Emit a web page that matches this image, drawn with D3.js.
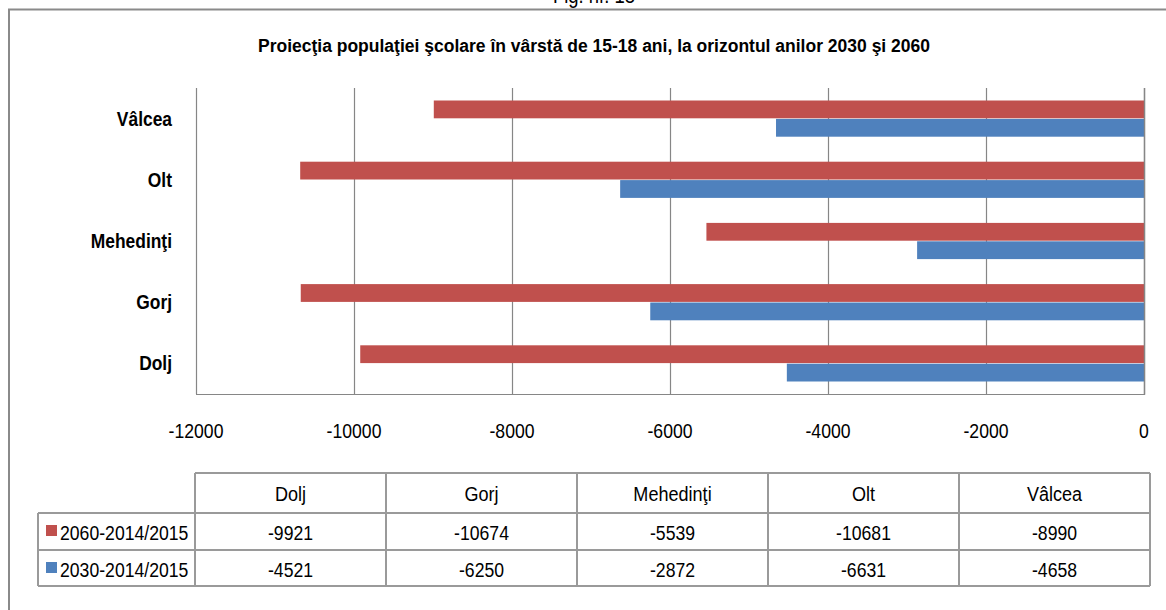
<!DOCTYPE html>
<html>
<head>
<meta charset="utf-8">
<script src="https://cdn.jsdelivr.net/npm/d3@7"></script>
<style>
  html, body { margin: 0; padding: 0; background: #fff; }
  svg { display: block; }
  text { font-family: "Liberation Sans", Arial, sans-serif; fill: #000; }
</style>
</head>
<body>
<svg id="chart" width="1166" height="610"></svg>
<script>
const categories = ["Dolj", "Gorj", "Mehedinţi", "Olt", "Vâlcea"];
const seriesNames = ["2060-2014/2015", "2030-2014/2015"];
const values2060 = [-9921, -10674, -5539, -10681, -8990];
const values2030 = [-4521, -6250, -2872, -6631, -4658];
const xTicks = [-12000, -10000, -8000, -6000, -4000, -2000, 0];
const colors = ["#C0504D", "#4F81BD"];
const chartTitle = "Proiecţia populaţiei şcolare în vârstă de 15-18 ani, la orizontul anilor 2030 şi 2060";
const figLabel = "Fig. nr. 18";

const svg = d3.select("#chart");
const frameColor = "#8a8a8a";
const SX = 0.84; // horizontal compression for narrow text look

function placeText(sel, xf, yf, sx) {
  return sel.attr("transform", (d, i) => `translate(${xf(d, i)},${yf(d, i)}) scale(${sx},1)`);
}

// Fig label (mostly cut off at top, as in the reference)
svg.append("text").attr("transform", `translate(594,3) scale(${SX},1)`).attr("text-anchor", "middle")
  .attr("font-size", 22).text(figLabel);

// frame
svg.append("line").attr("x1", 8).attr("x2", 1166).attr("y1", 9.5).attr("y2", 9.5)
  .attr("stroke", frameColor).attr("stroke-width", 2);
svg.append("line").attr("x1", 9).attr("x2", 9).attr("y1", 9).attr("y2", 610)
  .attr("stroke", frameColor).attr("stroke-width", 2);

// title
svg.append("text").attr("x", 594).attr("y", 52).attr("text-anchor", "middle")
  .attr("font-size", 17.5).attr("font-weight", "bold").text(chartTitle);

const plot = { left: 196, right: 1144, top: 88, bottom: 394 };
const x = d3.scaleLinear().domain([-12000, 0]).range([plot.left, plot.right]);
const yOrder = categories.slice().reverse(); // Vâlcea at top
const y = d3.scaleBand().domain(yOrder).range([plot.top, plot.bottom]).paddingInner(0).paddingOuter(0);
const barH = 17.8;

// gridlines
svg.append("g").selectAll("line").data(xTicks).join("line")
  .attr("x1", d => x(d) + 0.5).attr("x2", d => x(d) + 0.5)
  .attr("y1", plot.top).attr("y2", plot.bottom)
  .attr("stroke", "#868686").attr("stroke-width", 1.2);

// bottom axis line
svg.append("line").attr("x1", plot.left).attr("x2", plot.right + 1)
  .attr("y1", plot.bottom + 0.5).attr("y2", plot.bottom + 0.5)
  .attr("stroke", "#868686").attr("stroke-width", 1.2);

// bars
const bars = svg.append("g");
categories.forEach((c, i) => {
  const cy = y(c) + y.bandwidth() / 2;
  [values2060[i], values2030[i]].forEach((v, s) => {
    bars.append("rect")
      .attr("x", x(v)).attr("width", x(0) - x(v))
      .attr("y", s === 0 ? cy - barH - 0.3 : cy + 0.3)
      .attr("height", barH)
      .attr("fill", colors[s]);
  });
});

// zero axis line on top
svg.append("line").attr("x1", x(0) + 0.5).attr("x2", x(0) + 0.5)
  .attr("y1", plot.top).attr("y2", plot.bottom + 1)
  .attr("stroke", "#868686").attr("stroke-width", 1.4);

// x tick labels
placeText(svg.append("g").selectAll("text").data(xTicks).join("text"),
  d => x(d), () => 438, SX)
  .attr("text-anchor", "middle").attr("font-size", 21).text(d => d);

// category labels
placeText(svg.append("g").selectAll("text").data(categories).join("text"),
  () => 172, d => y(d) + y.bandwidth() / 2 + 7, 0.87)
  .attr("text-anchor", "end").attr("font-size", 20).attr("font-weight", "bold")
  .text(d => d);

// data table
const tbl = { left: 38, colStart: 195, right: 1150, top: 473, headBottom: 513, row1Bottom: 550, row2Bottom: 586 };
const colX = d3.scaleBand().domain(categories).range([tbl.colStart, tbl.right]);
const tg = svg.append("g");
const tStroke = "#9a9a9a";
function hl(x1, x2, yy) { tg.append("line").attr("x1", x1).attr("x2", x2).attr("y1", yy).attr("y2", yy).attr("stroke", tStroke).attr("stroke-width", 2); }
function vl(xx, y1, y2) { tg.append("line").attr("x1", xx).attr("x2", xx).attr("y1", y1).attr("y2", y2).attr("stroke", tStroke).attr("stroke-width", 2); }
hl(tbl.colStart, tbl.right, tbl.top);
hl(tbl.left, tbl.right, tbl.headBottom);
hl(tbl.left, tbl.right, tbl.row1Bottom);
hl(tbl.left, tbl.right, tbl.row2Bottom);
vl(tbl.left, tbl.headBottom, tbl.row2Bottom);
categories.forEach(c => vl(colX(c), tbl.top, tbl.row2Bottom));
vl(tbl.right, tbl.top, tbl.row2Bottom);

// header
placeText(tg.selectAll("text.h").data(categories).join("text").attr("class", "h"),
  d => colX(d) + colX.bandwidth() / 2, () => tbl.top + 28, 0.86)
  .attr("text-anchor", "middle").attr("font-size", 21).text(d => d);

const rows = [values2060, values2030];
const rowTops = [tbl.headBottom, tbl.row1Bottom];
rows.forEach((vals, r) => {
  const yy = rowTops[r] + 27;
  tg.append("rect").attr("x", 46).attr("y", rowTops[r] + 12).attr("width", 11).attr("height", 11).attr("fill", colors[r]);
  tg.append("text").attr("transform", `translate(60,${yy}) scale(${SX},1)`).attr("font-size", 21).text(seriesNames[r]);
  vals.forEach((v, i) => {
    tg.append("text").attr("transform", `translate(${colX(categories[i]) + colX.bandwidth() / 2},${yy}) scale(${SX},1)`)
      .attr("text-anchor", "middle").attr("font-size", 21).text(v);
  });
});
</script>
</body>
</html>
